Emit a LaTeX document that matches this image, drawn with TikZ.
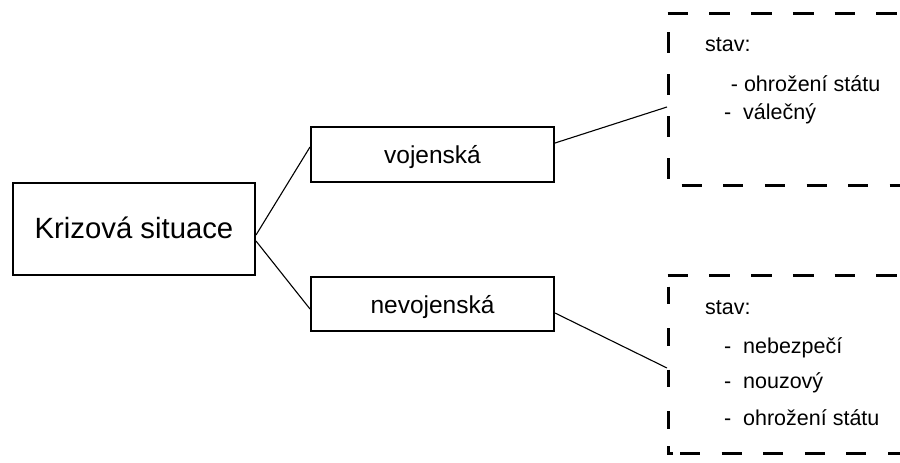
\documentclass[tikz,border=0pt]{standalone}
\usepackage{fontspec}
\setmainfont{Liberation Sans}
\usetikzlibrary{calc}
\begin{document}
\begin{tikzpicture}[x=1pt,y=-1pt,
  box/.style={draw,line width=2pt,inner sep=0pt,fill=white},
  conn/.style={line width=1.1pt},
  dashedge/.style={line width=3pt,dash pattern=on 20.7pt off 21pt},
  txt/.style={anchor=base west,inner sep=0pt,font=\fontsize{21.5}{26}\selectfont}]
\useasboundingbox (0,0) rectangle (900,463);

% main boxes
\node[box,minimum width=242pt,minimum height=92pt,text height=18.8pt,text depth=0.2pt,
      font=\fontsize{29.3}{35}\selectfont] (main) at (134,229) {Krizová situace};
\node[box,minimum width=243pt,minimum height=55pt,text height=18pt,text depth=0.4pt,
      font=\fontsize{24.5}{29}\selectfont] (voj) at (432.5,154.5) {vojenská};
\node[box,minimum width=243pt,minimum height=54pt,text height=18pt,text depth=0pt,
      font=\fontsize{24.5}{29}\selectfont] (nevoj) at (432.5,304) {nevojenská};

% free ends at the dashed boxes
\coordinate (stavA) at (667,107);
\coordinate (stavB) at (667,368);

% connectors
\draw[conn] ($(main.east)+(0,6)$) -- ($(voj.west)+(0,-7.5)$);
\draw[conn] ($(main.east)+(0,12)$) -- ($(nevoj.west)+(0,5)$);
\draw[conn] ($(voj.east)+(0,-11.5)$) -- (stavA);
\draw[conn] ($(nevoj.east)+(0,9)$) -- (stavB);

% upper dashed box
\draw[dashedge] (667.7,13.3) -- (900,13.3);
\draw[dashedge,dash pattern=on 20.5pt off 21.5pt] (668.3,32) -- (668.3,179);
\draw[dashedge,dash pattern=on 20pt off 21.6pt] (681.7,185) -- (900,185);

% lower dashed box
\draw[dashedge] (667.7,275) -- (900,275);
\draw[dashedge,dash pattern=on 17.5pt off 24pt] (668.3,286.7) -- (668.3,430);
\draw[line width=3pt] (668.3,446) -- (668.3,453) -- (672.5,453);
\draw[dashedge,dash pattern=on 20pt off 21.6pt] (680,453) -- (900,453);

% texts in the upper dashed box
\node[txt] (a1) at (705,51.7) {stav:};
\node[txt] (a2) at (730.7,91.7) {- ohrožení státu};
\node[txt] (a3) at (724,119) {-\hspace{11.8pt}válečný};

% texts in the lower dashed box
\node[txt] (b1) at (705,314) {stav:};
\node[txt] (b2) at (724,353.3) {-\hspace{11.8pt}nebezpečí};
\node[txt] (b3) at (724,388.3) {-\hspace{11.8pt}nouzový};
\node[txt] (b4) at (724,425) {-\hspace{11.8pt}ohrožení státu};
\end{tikzpicture}
\end{document}
